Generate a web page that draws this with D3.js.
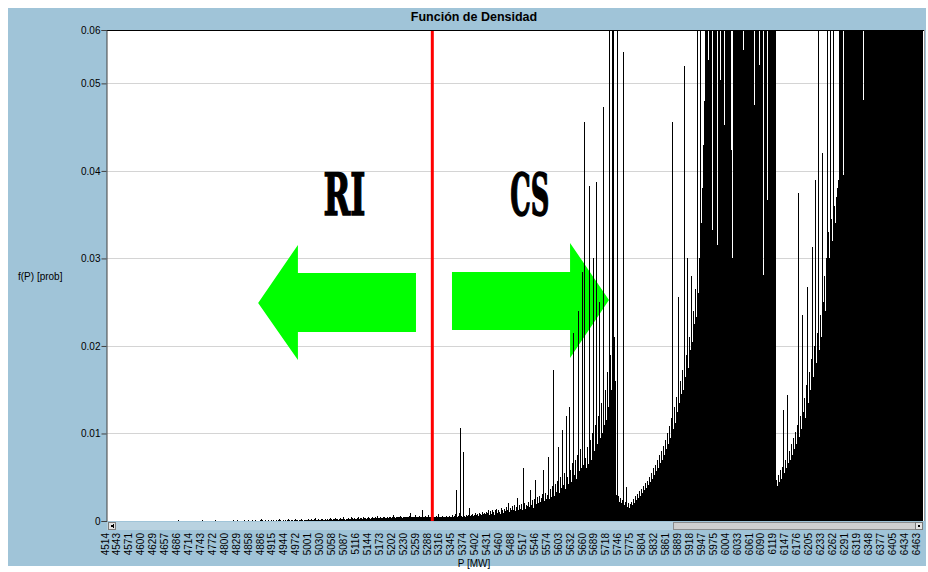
<!DOCTYPE html>
<html>
<head>
    <meta charset="utf-8">
    <title>Función de Densidad</title>
    <script src="https://cdn.jsdelivr.net/npm/d3@7"></script>
    <style>
        body { margin: 0; background: #fff; }
        text { font-family: "Liberation Sans", Arial, sans-serif; }
        .grid line { stroke: #d4d4d4; }
    </style>
</head>
<body>
<script>
    var width = 928,
        height = 572;

    // P axis tick labels (MW)
    var pLabels = ["4514","4543","4571","4600","4629","4657","4686","4714","4743","4772",
        "4800","4829","4858","4886","4915","4944","4972","5001","5030","5058",
        "5087","5116","5144","5173","5202","5230","5259","5288","5316","5345",
        "5374","5402","5431","5460","5488","5517","5546","5574","5603","5632",
        "5660","5689","5718","5746","5775","5804","5832","5861","5889","5918",
        "5947","5975","6004","6033","6061","6090","6119","6147","6176","6205",
        "6233","6262","6291","6319","6348","6377","6405","6434","6463"];
    var pMin = 4514,
        pMax = 6463;

    // f(P) for consecutive P bins from pMin to pMax, in units of 1e-4
    // (anything above ~561 runs off the top of the plot)
    var densityE4 = [
        0,0,0,0,0,0,0,0,0,0,0,0,0,0,0,0,0,0,0,0,
        0,0,0,0,0,0,0,0,0,0,0,0,0,0,0,0,0,0,0,0,
        0,0,0,0,0,0,0,0,0,0,0,0,0,0,0,0,0,0,0,0,
        0,0,0,0,0,0,0,0,0,0,0,1,0,0,0,0,0,0,0,0,
        0,0,0,0,0,0,0,0,0,0,0,0,0,0,0,1,0,0,0,0,
        0,0,0,0,0,0,0,0,1,0,0,0,0,0,0,0,0,0,0,0,
        0,0,0,0,0,0,1,0,0,0,1,0,0,0,0,0,0,1,0,0,
        0,1,0,0,0,1,0,0,1,0,0,0,0,1,2,1,0,0,1,0,
        0,1,0,0,1,0,1,0,0,1,0,1,2,1,0,0,1,0,1,0,
        1,2,1,0,1,1,0,1,2,1,1,0,1,1,2,1,0,1,1,1,
        1,2,1,1,2,1,1,2,3,1,1,2,1,1,2,2,1,1,2,1,
        2,1,2,3,2,1,2,2,3,2,2,1,2,3,2,2,4,2,1,2,
        2,3,2,2,4,3,2,3,2,2,3,5,2,3,3,2,4,3,3,2,
        3,4,3,2,3,5,3,3,4,3,6,3,3,4,3,3,5,4,3,3,
        4,3,5,4,3,4,7,4,3,4,4,5,4,6,4,3,4,5,4,4,
        5,4,6,9,4,4,5,4,7,5,4,4,6,5,4,12,5,4,6,5,
        5,7,5,4,6,5,4,5,4,6,5,8,5,4,5,6,5,4,5,6,
        5,4,6,5,5,7,5,6,8,35,5,6,9,106,6,5,79,6,5,7,
        6,7,15,6,7,8,6,7,9,7,8,6,9,8,7,10,8,9,8,10,
        9,12,7,11,8,13,10,7,12,14,9,13,10,8,15,12,9,14,11,16,
        12,20,10,15,12,17,13,18,11,16,26,12,18,14,19,13,60,20,14,18,
        17,22,16,35,18,24,15,25,47,19,27,20,29,22,26,31,58,23,32,25,
        30,73,25,36,27,40,172,29,42,33,46,85,32,50,38,104,41,55,37,120,
        50,42,130,58,45,66,215,52,70,48,75,240,57,82,60,285,64,456,72,60,
        85,65,383,92,70,100,300,80,110,387,88,120,250,95,135,100,473,110,150,115,
        170,130,600,190,150,600,600,210,160,30,600,28,22,26,20,24,536,18,22,39,
        16,20,15,19,22,18,25,21,28,24,31,26,34,29,37,32,40,35,43,38,
        46,41,50,44,55,48,60,52,64,57,70,61,75,66,80,70,86,75,92,82,
        100,88,108,95,118,456,105,130,112,142,125,256,135,160,145,172,150,520,165,190,
        300,175,210,195,280,205,240,225,265,233,600,260,300,600,340,380,430,480,600,600,
        600,527,600,600,600,333,600,600,600,600,315,600,600,504,600,600,600,453,600,600,
        600,600,600,600,424,300,600,600,600,600,600,600,600,600,600,600,538,600,600,600,
        600,600,600,600,600,600,600,475,600,600,600,600,521,600,600,600,281,600,600,600,
        367,600,600,600,600,600,600,600,600,47,40,52,44,58,48,62,127,55,70,60,
        144,66,80,70,88,75,95,82,102,88,110,375,96,120,105,235,124,140,118,155,
        267,135,170,150,185,313,165,200,390,180,215,600,195,235,210,420,250,280,240,300,
        600,330,300,600,345,320,600,360,340,370,380,390,600,600,600,600,395,600,600,600,
        600,600,600,600,600,600,600,600,600,600,600,600,600,600,600,600,481,600,600,600,
        600,600,600,600,600,600,600,600,600,600,600,600,600,600,600,600,600,600,600,600,
        600,600,600,600,600,600,600,600,600,600,600,600,600,600,600,600,600,600,600,600,
        600,600,600,600,600,600,600,600,600,600,600,600,600,600,600,600
    ];

    var yMax = 0.0561;
    var yTicks = [0, 0.01, 0.02, 0.03, 0.04, 0.05, yMax];

    // split value between RI and CS
    var cutP = 5291;

    // arrow outlines in (P, f) units
    var leftArrow = [[4875, 0.02491], [4970, 0.03154], [4970, 0.02834], [5252, 0.02834],
        [5252, 0.0216], [4970, 0.0216], [4970, 0.0184]];
    var rightArrow = [[5338, 0.02846], [5620, 0.02846], [5620, 0.03177], [5713, 0.02526],
        [5620, 0.01863], [5620, 0.02183], [5338, 0.02183]];

    var zoneNames = ["RI", "CS"];
    var zoneP = [5081, 5524];
    var zoneF = 0.03497;

    var plot = {left: 107, right: 923, top: 30, bottom: 521};

    var x = d3.scaleLinear()
        .domain([pMin, pMax])
        .range([plot.left, plot.right]);

    var y = d3.scaleLinear()
        .domain([0, yMax])
        .range([plot.bottom, plot.top]);

    var xLabel = d3.scalePoint()
        .domain(pLabels)
        .range([105, 916]);

    var svg = d3.select("body").append("svg")
        .attr("width", width)
        .attr("height", height);

    // panel background
    svg.append("rect")
        .attr("x", 8).attr("y", 8)
        .attr("width", 918).attr("height", 558)
        .attr("fill", "#a0c4d8");

    svg.append("text")
        .attr("x", 474).attr("y", 21)
        .attr("text-anchor", "middle")
        .style("font-weight", "bold")
        .style("font-size", "12.5px")
        .text("Función de Densidad");

    svg.append("rect")
        .attr("x", plot.left).attr("y", plot.top)
        .attr("width", plot.right - plot.left + 1)
        .attr("height", plot.bottom - plot.top)
        .attr("fill", "#fff");

    svg.append("defs").append("clipPath")
        .attr("id", "clip")
        .append("rect")
        .attr("x", plot.left).attr("y", plot.top)
        .attr("width", plot.right - plot.left)
        .attr("height", plot.bottom - plot.top);

    // grid
    svg.append("g")
        .attr("class", "grid")
        .selectAll("line")
        .data(yTicks.slice(1, -1))
        .enter().append("line")
        .attr("x1", plot.left).attr("x2", plot.right)
        .attr("y1", function (d) { return Math.round(y(d)) + 0.5; })
        .attr("y2", function (d) { return Math.round(y(d)) + 0.5; });

    // arrows
    var line = d3.line()
        .x(function (d) { return x(d[0]); })
        .y(function (d) { return y(d[1]); });

    svg.selectAll(".arrow")
        .data([leftArrow, rightArrow])
        .enter().append("path")
        .attr("class", "arrow")
        .attr("d", function (d) { return line(d) + "Z"; })
        .attr("fill", "#00ff00");

    var zoneWidths = [42, 39];
    svg.selectAll(".zone")
        .data(zoneNames)
        .enter().append("text")
        .attr("class", "zone")
        .attr("x", function (d, i) { return x(zoneP[i]); })
        .attr("y", y(zoneF))
        .attr("text-anchor", "middle")
        .attr("textLength", function (d, i) { return zoneWidths[i]; })
        .attr("lengthAdjust", "spacingAndGlyphs")
        .attr("stroke", "#000")
        .attr("stroke-width", 1.6)
        .style("font-family", "'DejaVu Serif', serif")
        .style("font-weight", "bold")
        .style("font-size", "57px")
        .text(function (d) { return d; });

    // density bars
    var step = (pMax - pMin) / densityE4.length;
    var bins = densityE4.map(function (d, i) {
        return {p: pMin + i * step, f: d / 1e4};
    });

    svg.append("g")
        .attr("clip-path", "url(#clip)")
        .attr("shape-rendering", "crispEdges")
        .selectAll("rect")
        .data(bins.filter(function (d) { return d.f > 0; }))
        .enter().append("rect")
        .attr("x", function (d) { return x(d.p); })
        .attr("width", function (d) { return x(d.p + step) - x(d.p); })
        .attr("y", function (d) { return y(d.f); })
        .attr("height", function (d) { return y(0) - y(d.f); })
        .attr("fill", "#000");

    // cut line
    svg.append("line")
        .attr("x1", x(cutP)).attr("x2", x(cutP))
        .attr("y1", plot.top).attr("y2", plot.bottom)
        .attr("stroke", "#ff0000")
        .attr("stroke-width", 3);

    // frame
    svg.append("line")
        .attr("x1", plot.left).attr("x2", plot.right + 1)
        .attr("y1", plot.top + 0.5).attr("y2", plot.top + 0.5)
        .attr("stroke", "#000");
    svg.append("line")
        .attr("x1", plot.right + 1.5).attr("x2", plot.right + 1.5)
        .attr("y1", plot.top).attr("y2", plot.bottom)
        .attr("stroke", "#9a9a9a");

    // y axis
    var yAxis = d3.axisLeft(y)
        .tickValues(yTicks)
        .tickSize(5)
        .tickFormat(d3.format(".2~f"));

    var gy = svg.append("g")
        .attr("transform", "translate(" + (plot.left - 0.5) + ",0)")
        .call(yAxis);
    gy.select(".domain").attr("stroke", "#404040");
    gy.selectAll(".tick line").attr("stroke", "#404040");
    gy.selectAll(".tick text")
        .attr("x", -6)
        .style("font-family", "'Liberation Sans', Arial, sans-serif")
        .style("font-size", "10px")
        .attr("fill", "#000");

    svg.append("text")
        .attr("x", 18).attr("y", 280)
        .style("font-size", "10px")
        .text("f(P) [prob]");

    // scroll bar under the plot
    var sb = svg.append("g").attr("shape-rendering", "crispEdges");
    sb.append("rect")
        .attr("x", plot.left).attr("y", 522)
        .attr("width", plot.right - plot.left).attr("height", 8)
        .attr("fill", "#b9d2e0");
    sb.append("rect")
        .attr("x", 673.5).attr("y", 522.5)
        .attr("width", 243).attr("height", 7)
        .attr("fill", "#cfcfcf")
        .attr("stroke", "#8c8c8c");
    [[108.5, -1], [915.5, 1]].forEach(function (b) {
        sb.append("rect")
            .attr("x", b[0]).attr("y", 522.5)
            .attr("width", 7).attr("height", 7)
            .attr("fill", "#e4e4e4")
            .attr("stroke", "#7a7a7a");
        var cx = b[0] + 3.5;
        sb.append("path")
            .attr("d", "M" + (cx - 1.5 * b[1]) + ",524 L" + (cx + 1.5 * b[1]) + ",526 L" + (cx - 1.5 * b[1]) + ",528Z")
            .attr("fill", "#000");
    });

    // x labels
    svg.append("g")
        .selectAll("text")
        .data(pLabels)
        .enter().append("text")
        .attr("transform", function (d) {
            return "translate(" + xLabel(d) + ",533)rotate(-90)";
        })
        .attr("dy", "0.35em")
        .attr("text-anchor", "end")
        .style("font-size", "10px")
        .text(function (d) { return d; });

    svg.append("text")
        .attr("x", 474).attr("y", 567)
        .attr("text-anchor", "middle")
        .style("font-size", "10px")
        .text("P [MW]");
</script>
</body>
</html>
